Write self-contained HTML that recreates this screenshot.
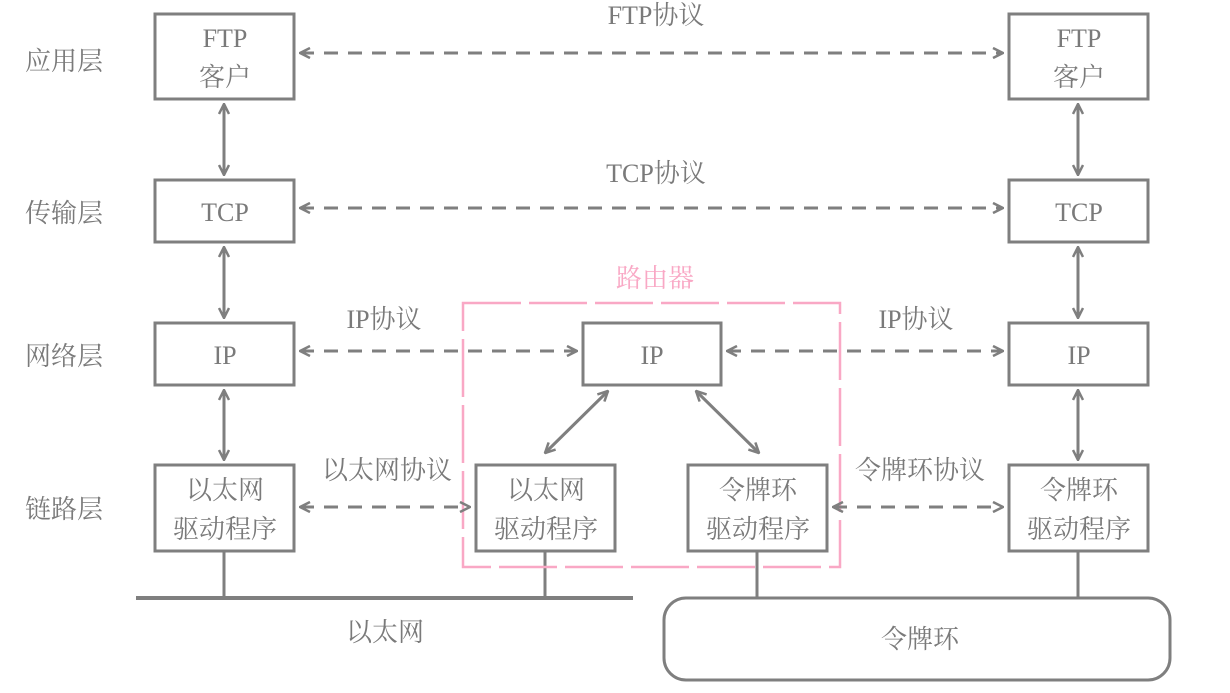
<!DOCTYPE html>
<html><head><meta charset="utf-8"><style>
html,body{margin:0;padding:0;background:#fff;}
svg text{font-family:"Liberation Serif","Noto Serif CJK SC",serif;fill:#7a7a7a;font-size:26px;text-anchor:middle;}
</style></head><body>
<svg width="1230" height="688" viewBox="0 0 1230 688" xmlns="http://www.w3.org/2000/svg">
<defs>
<marker id="a" viewBox="0 0 12 12" refX="11" refY="6" markerWidth="12" markerHeight="12" markerUnits="userSpaceOnUse" orient="auto-start-reverse">
<path d="M1,1 L11,6 L1,11" fill="none" stroke="#7f7f7f" stroke-width="2.5"/>
</marker>
</defs>
<g fill="none" stroke="#7f7f7f" stroke-width="3">
<rect x="155" y="14" width="139" height="85"/>
<rect x="155" y="180" width="139" height="62"/>
<rect x="155" y="323" width="139" height="62"/>
<rect x="155" y="465" width="139" height="86"/>
<rect x="1009" y="14" width="139" height="85"/>
<rect x="1009" y="180" width="139" height="62"/>
<rect x="1009" y="323" width="139" height="62"/>
<rect x="1009" y="465" width="139" height="86"/>
<rect x="583" y="323" width="138" height="62"/>
<rect x="476" y="465" width="139" height="86"/>
<rect x="688" y="465" width="139" height="86"/>
<rect x="664" y="598" width="506" height="82" rx="22"/>
<line x1="136" y1="598" x2="633" y2="598" stroke-width="4"/>
<line x1="224" y1="551" x2="224" y2="598"/>
<line x1="545" y1="551" x2="545" y2="598"/>
<line x1="757" y1="551" x2="757" y2="598"/>
<line x1="1078" y1="551" x2="1078" y2="598"/>
</g>
<rect x="463" y="303" width="377" height="264" fill="none" stroke="#f9a8c5" stroke-width="2.5" stroke-dasharray="58,8"/>
<g stroke="#7f7f7f" stroke-width="3" fill="none" marker-start="url(#a)" marker-end="url(#a)">
<line x1="224" y1="104" x2="224" y2="175"/>
<line x1="224" y1="247" x2="224" y2="318"/>
<line x1="224" y1="390" x2="224" y2="460"/>
<line x1="1078" y1="104" x2="1078" y2="175"/>
<line x1="1078" y1="247" x2="1078" y2="318"/>
<line x1="1078" y1="390" x2="1078" y2="460"/>
<line x1="608" y1="391" x2="545" y2="453"/>
<line x1="696" y1="391" x2="759" y2="453"/>
</g>
<g stroke="#7f7f7f" stroke-width="3" fill="none" stroke-dasharray="14,10" marker-start="url(#a)" marker-end="url(#a)">
<line x1="300" y1="53" x2="1003" y2="53"/>
<line x1="300" y1="208" x2="1003" y2="208"/>
<line x1="300" y1="351" x2="577" y2="351"/>
<line x1="727" y1="351" x2="1003" y2="351"/>
<line x1="300" y1="507" x2="470" y2="507"/>
<line x1="833" y1="507" x2="1003" y2="507"/>
</g>
<text x="64" y="70">应用层</text>
<text x="64" y="222">传输层</text>
<text x="64" y="365">网络层</text>
<text x="64" y="518">链路层</text>
<text x="225" y="47">FTP</text>
<text x="225" y="86">客户</text>
<text x="1079" y="47">FTP</text>
<text x="1079" y="86">客户</text>
<text x="225" y="221">TCP</text>
<text x="1079" y="221">TCP</text>
<text x="225" y="364">IP</text>
<text x="1079" y="364">IP</text>
<text x="652" y="364">IP</text>
<text x="225" y="499">以太网</text>
<text x="225" y="538">驱动程序</text>
<text x="546" y="499">以太网</text>
<text x="546" y="538">驱动程序</text>
<text x="758" y="499">令牌环</text>
<text x="758" y="538">驱动程序</text>
<text x="1079" y="499">令牌环</text>
<text x="1079" y="538">驱动程序</text>
<text x="656" y="24">FTP协议</text>
<text x="656" y="182">TCP协议</text>
<text x="384" y="328">IP协议</text>
<text x="916" y="328">IP协议</text>
<text x="387" y="479">以太网协议</text>
<text x="920" y="479">令牌环协议</text>
<text x="655" y="287" style="fill:#f9a8c5">路由器</text>
<text x="385" y="641">以太网</text>
<text x="920" y="648">令牌环</text>
</svg>
</body></html>
